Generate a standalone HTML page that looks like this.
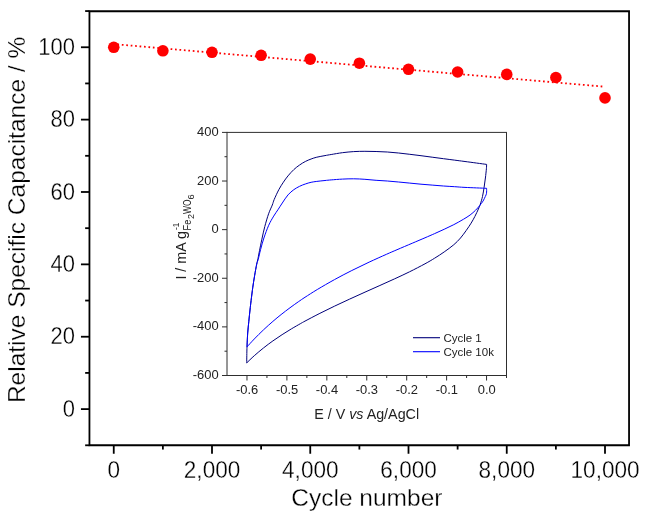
<!DOCTYPE html>
<html><head><meta charset="utf-8"><title>Cycling stability</title>
<style>
html,body{margin:0;padding:0;background:#fff;}
body{width:646px;height:521px;overflow:hidden;}
svg{display:block;will-change:transform;}
text{font-family:"Liberation Sans",sans-serif;}
.big text,text.big{stroke:#fff;stroke-width:0.3px;}
</style></head><body>
<svg width="646" height="521" viewBox="0 0 646 521">
<rect width="646" height="521" fill="#fff"/>
<g stroke="#000" stroke-width="1.8" fill="none" stroke-linecap="butt">
<path d="M89.45 11.25 H629.05 V445.25 H89.45 Z"/>
<path d="M89.45 445.29 h-4.3"/>
<path d="M89.45 409.10 h-8.5"/>
<path d="M89.45 372.92 h-4.3"/>
<path d="M89.45 336.73 h-8.5"/>
<path d="M89.45 300.55 h-4.3"/>
<path d="M89.45 264.36 h-8.5"/>
<path d="M89.45 228.18 h-4.3"/>
<path d="M89.45 191.99 h-8.5"/>
<path d="M89.45 155.81 h-4.3"/>
<path d="M89.45 119.62 h-8.5"/>
<path d="M89.45 83.44 h-4.3"/>
<path d="M89.45 47.25 h-8.5"/>
<path d="M89.45 11.06 h-4.3"/>
<path d="M113.75 445.25 v8.5"/>
<path d="M162.88 445.25 v4.3"/>
<path d="M212.00 445.25 v8.5"/>
<path d="M261.12 445.25 v4.3"/>
<path d="M310.25 445.25 v8.5"/>
<path d="M359.38 445.25 v4.3"/>
<path d="M408.50 445.25 v8.5"/>
<path d="M457.62 445.25 v4.3"/>
<path d="M506.75 445.25 v8.5"/>
<path d="M555.88 445.25 v4.3"/>
<path d="M605.00 445.25 v8.5"/>
</g>
<g class="big" font-size="24.4" fill="#000">
<text transform="translate(75.0 416.75) scale(0.900 1)" text-anchor="end">0</text>
<text transform="translate(75.0 344.38) scale(0.900 1)" text-anchor="end">20</text>
<text transform="translate(75.0 272.01) scale(0.900 1)" text-anchor="end">40</text>
<text transform="translate(75.0 199.64) scale(0.900 1)" text-anchor="end">60</text>
<text transform="translate(75.0 127.27) scale(0.900 1)" text-anchor="end">80</text>
<text transform="translate(75.0 54.90) scale(0.900 1)" text-anchor="end">100</text>
<text transform="translate(113.80 477.6) scale(0.925 1)" text-anchor="middle">0</text>
<text transform="translate(212.05 477.6) scale(0.925 1)" text-anchor="middle">2,000</text>
<text transform="translate(310.30 477.6) scale(0.925 1)" text-anchor="middle">4,000</text>
<text transform="translate(408.55 477.6) scale(0.925 1)" text-anchor="middle">6,000</text>
<text transform="translate(506.80 477.6) scale(0.925 1)" text-anchor="middle">8,000</text>
<text transform="translate(605.05 477.6) scale(0.925 1)" text-anchor="middle">10,000</text>
</g>
<text class="big" x="291.3" y="505.7" font-size="24.5" fill="#000">Cycle number</text>
<text class="big" transform="translate(25 403.1) rotate(-90)" font-size="24.5" fill="#000">Relative Specific Capacitance / %</text>
<path d="M113.75 44.10 L604.60 86.70" stroke="#f00" stroke-width="1.8" stroke-dasharray="1.7 2.75" stroke-dashoffset="0.8" fill="none"/>
<circle cx="113.75" cy="47.30" r="5.8" fill="#f00"/>
<circle cx="162.88" cy="50.80" r="5.8" fill="#f00"/>
<circle cx="212.00" cy="52.30" r="5.8" fill="#f00"/>
<circle cx="261.12" cy="55.30" r="5.8" fill="#f00"/>
<circle cx="310.25" cy="59.10" r="5.8" fill="#f00"/>
<circle cx="359.38" cy="63.20" r="5.8" fill="#f00"/>
<circle cx="408.50" cy="69.30" r="5.8" fill="#f00"/>
<circle cx="457.62" cy="72.00" r="5.8" fill="#f00"/>
<circle cx="506.75" cy="74.40" r="5.8" fill="#f00"/>
<circle cx="555.88" cy="77.50" r="5.8" fill="#f00"/>
<circle cx="605.00" cy="97.90" r="5.8" fill="#f00"/>
<g fill="none" stroke-width="1" stroke="#2e2e2e">
<path d="M227.00 131.90 V376.00"/>
<path d="M222.00 132.40 H507.00"/>
<path d="M506.50 132.40 V378.00"/>
<path d="M222.00 375.50 H506.50"/>
<path d="M227.00 351.19 h-2.5"/>
<path d="M227.00 326.88 h-5.0"/>
<path d="M227.00 302.57 h-2.5"/>
<path d="M227.00 278.26 h-5.0"/>
<path d="M227.00 253.95 h-2.5"/>
<path d="M227.00 229.64 h-5.0"/>
<path d="M227.00 205.33 h-2.5"/>
<path d="M227.00 181.02 h-5.0"/>
<path d="M227.00 156.71 h-2.5"/>
<path d="M246.97 375.50 v5.0"/>
<path d="M266.94 375.50 v2.5"/>
<path d="M286.90 375.50 v5.0"/>
<path d="M306.87 375.50 v2.5"/>
<path d="M326.83 375.50 v5.0"/>
<path d="M346.80 375.50 v2.5"/>
<path d="M366.76 375.50 v5.0"/>
<path d="M386.73 375.50 v2.5"/>
<path d="M406.69 375.50 v5.0"/>
<path d="M426.66 375.50 v2.5"/>
<path d="M446.62 375.50 v5.0"/>
<path d="M466.59 375.50 v2.5"/>
<path d="M486.55 375.50 v5.0"/>
</g>
<g font-size="13.7" fill="#222">
<text transform="translate(218.7 379.10) scale(0.945 1)" text-anchor="end">-600</text>
<text transform="translate(218.7 330.48) scale(0.945 1)" text-anchor="end">-400</text>
<text transform="translate(218.7 281.86) scale(0.945 1)" text-anchor="end">-200</text>
<text transform="translate(218.7 233.24) scale(0.945 1)" text-anchor="end">0</text>
<text transform="translate(218.7 184.62) scale(0.945 1)" text-anchor="end">200</text>
<text transform="translate(218.7 136.00) scale(0.945 1)" text-anchor="end">400</text>
<text transform="translate(247.12 394.4) scale(0.945 1)" text-anchor="middle">-0.6</text>
<text transform="translate(287.05 394.4) scale(0.945 1)" text-anchor="middle">-0.5</text>
<text transform="translate(326.98 394.4) scale(0.945 1)" text-anchor="middle">-0.4</text>
<text transform="translate(366.91 394.4) scale(0.945 1)" text-anchor="middle">-0.3</text>
<text transform="translate(406.84 394.4) scale(0.945 1)" text-anchor="middle">-0.2</text>
<text transform="translate(446.77 394.4) scale(0.945 1)" text-anchor="middle">-0.1</text>
<text transform="translate(486.70 394.4) scale(0.945 1)" text-anchor="middle">0.0</text>
</g>
<text x="314.2" y="418.5" font-size="14.3" fill="#222">E / V <tspan font-style="italic">vs</tspan> Ag/AgCl</text>
<g transform="translate(185.7 279.6) rotate(-90)" fill="#222">
<text x="0" y="0" font-size="14.3">I / mA g</text>
<text x="49.6" y="-7" font-size="8.3">-1</text>
<text transform="translate(49.2 5.2) scale(0.9 1)" font-size="10.2">Fe</text>
<text transform="translate(60.5 8.5)" font-size="9">2</text>
<text transform="translate(65.5 5.2) scale(0.83 1)" font-size="10.2">WO</text>
<text transform="translate(80.0 8.4)" font-size="9.4">6</text>
</g>
<path d="M246.70 362.90 C246.75 360.22 246.83 351.78 247.00 346.80 C247.17 341.82 247.40 337.22 247.70 333.00 C248.00 328.78 248.42 325.33 248.80 321.50 C249.18 317.67 249.62 313.50 250.00 310.00 C250.38 306.50 250.63 304.30 251.10 300.50 C251.57 296.70 252.22 291.33 252.80 287.20 C253.38 283.07 253.95 279.53 254.60 275.70 C255.25 271.87 256.13 267.07 256.70 264.20 C257.27 261.33 257.53 260.75 258.00 258.50 C258.47 256.25 258.85 253.93 259.50 250.70 C260.15 247.47 261.02 243.13 261.90 239.10 C262.78 235.07 263.68 230.72 264.80 226.50 C265.92 222.28 267.35 217.38 268.60 213.80 C269.85 210.22 271.37 207.38 272.30 205.00 C273.23 202.62 273.12 202.05 274.20 199.50 C275.28 196.95 277.27 192.58 278.80 189.70 C280.33 186.82 281.87 184.50 283.40 182.20 C284.93 179.90 286.27 178.00 288.00 175.90 C289.73 173.80 291.87 171.42 293.80 169.60 C295.73 167.78 297.68 166.35 299.60 165.00 C301.52 163.65 303.38 162.50 305.30 161.50 C307.22 160.50 309.18 159.72 311.10 159.00 C313.02 158.28 314.48 157.77 316.80 157.20 C319.12 156.63 322.60 156.05 325.00 155.60 C327.40 155.15 328.30 154.98 331.20 154.50 C334.10 154.02 338.65 153.18 342.40 152.70 C346.15 152.22 349.95 151.83 353.70 151.60 C357.45 151.37 361.17 151.32 364.90 151.30 C368.63 151.28 372.37 151.38 376.10 151.50 C379.83 151.62 383.55 151.75 387.30 152.00 C391.05 152.25 394.85 152.62 398.60 153.00 C402.35 153.38 406.07 153.85 409.80 154.30 C413.53 154.75 417.27 155.22 421.00 155.70 C424.73 156.18 428.45 156.70 432.20 157.20 C435.95 157.70 439.75 158.21 443.50 158.70 C447.25 159.19 451.12 159.68 454.70 160.15 C458.28 160.62 459.68 160.79 465.00 161.50 C470.32 162.21 483.00 163.92 486.60 164.40 C486.57 165.13 486.60 166.53 486.40 168.80 C486.20 171.07 485.78 174.92 485.40 178.00 C485.02 181.08 484.58 184.22 484.10 187.30 C483.62 190.38 483.15 193.63 482.50 196.50 C481.85 199.37 480.88 202.42 480.20 204.50 C479.52 206.58 479.28 207.02 478.40 209.00 C477.52 210.98 476.12 214.04 474.90 216.40 C473.68 218.76 472.53 220.83 471.10 223.15 C469.67 225.47 468.07 227.88 466.30 230.35 C464.53 232.82 462.58 235.60 460.50 238.00 C458.42 240.40 456.52 242.41 453.80 244.73 C451.08 247.05 447.40 249.68 444.20 251.93 C441.00 254.18 437.80 256.24 434.60 258.21 C431.40 260.19 429.17 261.54 425.00 263.80 C420.83 266.06 414.65 269.28 409.60 271.78 C404.55 274.28 399.65 276.52 394.70 278.81 C389.75 281.09 384.85 283.26 379.90 285.48 C374.95 287.70 370.05 289.86 365.00 292.13 C359.95 294.40 354.65 296.78 349.60 299.11 C344.55 301.43 339.65 303.70 334.70 306.07 C329.75 308.44 324.85 310.82 319.90 313.33 C314.95 315.83 308.20 319.43 305.00 321.12 C301.80 322.82 302.97 322.20 300.70 323.50 C298.43 324.79 294.50 327.01 291.40 328.87 C288.30 330.73 285.18 332.65 282.10 334.66 C279.02 336.67 275.98 338.70 272.90 340.90 C269.82 343.11 266.70 345.42 263.60 347.88 C260.50 350.35 257.12 353.20 254.30 355.70 C251.48 358.21 247.97 361.70 246.70 362.90" fill="none" stroke="#00007a" stroke-width="1" stroke-linejoin="round"/>
<path d="M247.00 346.90 C247.12 344.58 247.40 337.23 247.70 333.00 C248.00 328.77 248.42 325.33 248.80 321.50 C249.18 317.67 249.62 313.50 250.00 310.00 C250.38 306.50 250.63 304.30 251.10 300.50 C251.57 296.70 252.22 291.33 252.80 287.20 C253.38 283.07 253.95 279.53 254.60 275.70 C255.25 271.87 256.10 266.90 256.70 264.20 C257.30 261.50 257.55 261.95 258.20 259.50 C258.85 257.05 259.65 253.08 260.60 249.50 C261.55 245.92 262.55 242.03 263.90 238.00 C265.25 233.97 267.07 228.95 268.70 225.30 C270.33 221.65 272.10 218.78 273.70 216.10 C275.30 213.42 276.87 211.38 278.30 209.20 C279.73 207.02 280.68 205.38 282.30 203.00 C283.92 200.62 286.08 197.12 288.00 194.90 C289.92 192.68 291.87 191.13 293.80 189.70 C295.73 188.27 297.68 187.25 299.60 186.30 C301.52 185.35 303.38 184.67 305.30 184.00 C307.22 183.33 309.18 182.73 311.10 182.30 C313.02 181.87 314.48 181.70 316.80 181.40 C319.12 181.10 322.60 180.75 325.00 180.50 C327.40 180.25 328.30 180.13 331.20 179.90 C334.10 179.67 338.65 179.28 342.40 179.10 C346.15 178.92 349.95 178.77 353.70 178.80 C357.45 178.83 361.17 179.05 364.90 179.30 C368.63 179.55 372.37 180.02 376.10 180.30 C379.83 180.58 383.55 180.72 387.30 181.00 C391.05 181.28 394.85 181.65 398.60 182.00 C402.35 182.35 406.07 182.73 409.80 183.10 C413.53 183.47 417.27 183.87 421.00 184.20 C424.73 184.53 428.45 184.80 432.20 185.10 C435.95 185.40 439.75 185.73 443.50 186.00 C447.25 186.27 451.12 186.47 454.70 186.70 C458.28 186.93 459.68 187.13 465.00 187.40 C470.32 187.67 483.00 188.15 486.60 188.30 C486.58 189.13 486.72 191.93 486.50 193.30 C486.28 194.67 485.88 195.20 485.30 196.50 C484.72 197.80 483.95 199.57 483.00 201.10 C482.05 202.63 480.85 204.17 479.60 205.70 C478.35 207.23 477.08 208.75 475.50 210.30 C473.92 211.85 472.12 213.50 470.10 215.00 C468.08 216.50 466.12 217.69 463.40 219.30 C460.68 220.91 457.00 222.99 453.80 224.65 C450.60 226.31 447.40 227.77 444.20 229.27 C441.00 230.76 437.80 232.19 434.60 233.62 C431.40 235.04 428.72 236.20 425.00 237.80 C421.28 239.40 416.97 241.22 412.30 243.21 C407.63 245.19 401.32 247.87 397.00 249.72 C392.68 251.57 391.05 252.25 386.40 254.33 C381.75 256.40 374.87 259.45 369.10 262.15 C363.33 264.85 357.57 267.62 351.80 270.52 C346.03 273.43 340.25 276.43 334.50 279.60 C328.75 282.76 322.22 286.56 317.30 289.51 C312.38 292.46 308.17 295.23 305.00 297.28 C301.83 299.33 300.80 300.07 298.30 301.81 C295.80 303.55 292.87 305.62 290.00 307.75 C287.13 309.88 283.95 312.31 281.10 314.59 C278.25 316.86 275.82 318.85 272.90 321.38 C269.98 323.91 266.70 326.83 263.60 329.76 C260.50 332.69 257.07 336.12 254.30 338.98 C251.53 341.83 248.22 345.58 247.00 346.90" fill="none" stroke="#0000ff" stroke-width="1" stroke-linejoin="round"/>
<path d="M413 337.7 H440" stroke="#00007a" stroke-width="1.1"/>
<path d="M413 351.7 H440" stroke="#0000ff" stroke-width="1.1"/>
<text x="443.4" y="341.5" font-size="11.5" fill="#222">Cycle 1</text>
<text x="443.4" y="355.8" font-size="11.5" fill="#222">Cycle 10k</text>
</svg>
</body></html>
